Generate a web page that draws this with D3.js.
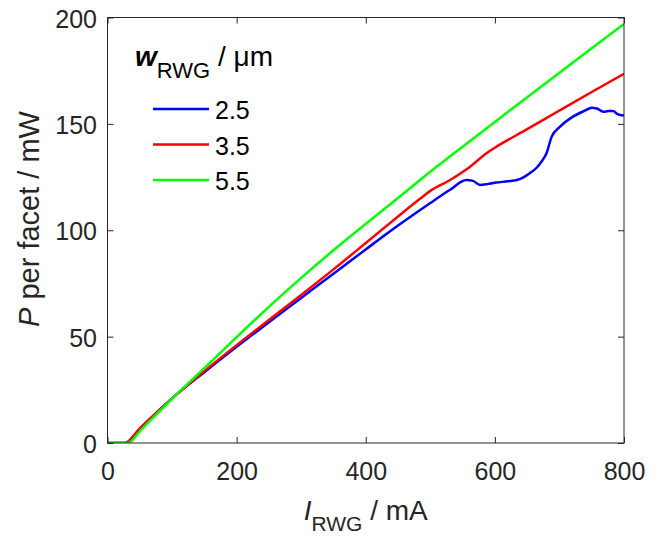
<!DOCTYPE html>
<html>
<head>
<meta charset="utf-8">
<script src="https://cdn.jsdelivr.net/npm/d3@7"></script>
<style>
  body { margin: 0; background: #fff; }
  svg { display: block; font-family: "Liberation Sans", Arial, sans-serif; }
</style>
</head>
<body>
<svg id="chart" width="666" height="539"></svg>
<script>
// ---- data ----
var seriesNames = ['2.5', '3.5', '5.5'];
var seriesColors = ['#0000ff', '#ff0000', '#00ff00'];

var blueI = [0, 27, 50, 100, 150, 200, 250, 300, 350, 400, 450, 500, 530, 556, 566, 577, 590, 602, 620, 634,
             645, 654, 665, 672, 680, 688, 701, 721, 740, 750, 758, 768, 776, 783, 790, 800];
var blueP = [0, 0, 6.8, 21.0, 33.3, 45.2, 56.8, 68.2, 79.6, 91.0, 102.2, 112.8, 118.9, 123.6, 123.2, 121.3, 121.8, 122.4, 123.0, 123.6,
             125.0, 126.8, 129.5, 132.2, 136.2, 144.0, 148.7, 153.4, 156.3, 157.6, 157.2, 155.7, 156.0, 156.0, 154.6, 153.9];

var redI = [0, 27, 50, 100, 150, 200, 250, 300, 350, 400, 450, 484, 500, 530, 560, 587, 600, 650, 700, 750, 800];
var redP = [0, 0, 6.8, 21.0, 33.8, 46.0, 57.8, 69.6, 81.6, 94.0, 106.5, 114.8, 118.5, 123.5, 129.5, 136.2, 138.8, 147.5, 156.3, 165.0, 173.5];

var greenI = [0, 32, 50, 100, 150, 200, 250, 300, 350, 400, 450, 500, 550, 600, 650, 700, 750, 800];
var greenP = [0, 0, 5.5, 20.8, 35.2, 49.8, 64.0, 77.6, 90.6, 103.0, 115.2, 127.5, 139.3, 150.9, 162.5, 174.0, 185.5, 197.0];

var xTicks = [0, 200, 400, 600, 800];
var yTicks = [0, 50, 100, 150, 200];

// ---- layout ----
var svg = d3.select('#chart');
var pLeft = 107.5, pRight = 624, pTop = 17.5, pBottom = 443;
var axisColor = '#262626';

var x = d3.scaleLinear().domain([0, 800]).range([pLeft, pRight]);
var y = d3.scaleLinear().domain([0, 200]).range([pBottom, pTop]);

var series = [
  { name: seriesNames[0], color: seriesColors[0], I: blueI, P: blueP },
  { name: seriesNames[1], color: seriesColors[1], I: redI, P: redP },
  { name: seriesNames[2], color: seriesColors[2], I: greenI, P: greenP }
];

// clip
svg.append('clipPath').attr('id', 'clip')
  .append('rect')
  .attr('x', pLeft).attr('y', pTop)
  .attr('width', pRight - pLeft).attr('height', pBottom - pTop);

var line = d3.line()
  .x(function (d) { return x(d[0]); })
  .y(function (d) { return y(d[1]); })
  .curve(d3.curveMonotoneX);

svg.append('g').attr('clip-path', 'url(#clip)')
  .selectAll('path')
  .data(series)
  .enter()
  .append('path')
  .attr('fill', 'none')
  .attr('stroke', function (d) { return d.color; })
  .attr('stroke-width', 2.5)
  .attr('stroke-linejoin', 'round')
  .attr('d', function (d) { return line(d3.zip(d.I, d.P)); });

// axes
function styleAxis(g) {
  g.select('.domain').remove();
  g.selectAll('line').attr('stroke', axisColor);
  g.selectAll('text').attr('fill', axisColor).style('font-size', '25px')
    .style('font-family', '"Liberation Sans", Arial, sans-serif');
}

svg.append('g')
  .attr('transform', 'translate(0,' + pBottom + ')')
  .call(d3.axisBottom(x).tickValues(xTicks).tickSizeInner(-6).tickSizeOuter(0).tickPadding(19))
  .call(styleAxis);

svg.append('g')
  .attr('transform', 'translate(0,' + pTop + ')')
  .call(d3.axisTop(x).tickValues(xTicks).tickSizeInner(-6).tickSizeOuter(0).tickFormat(''))
  .call(styleAxis);

svg.append('g')
  .attr('transform', 'translate(' + pLeft + ',0)')
  .call(d3.axisLeft(y).tickValues(yTicks).tickSizeInner(-6).tickSizeOuter(0).tickPadding(10.5))
  .call(styleAxis)
  .selectAll('text').attr('dy', '0.38em');

svg.append('g')
  .attr('transform', 'translate(' + pRight + ',0)')
  .call(d3.axisRight(y).tickValues(yTicks).tickSizeInner(-6).tickSizeOuter(0).tickFormat(''))
  .call(styleAxis);

// box
svg.append('rect')
  .attr('x', pLeft).attr('y', pTop)
  .attr('width', pRight - pLeft).attr('height', pBottom - pTop)
  .attr('fill', 'none').attr('stroke', axisColor).attr('stroke-width', 1);

// axis labels
var xl = svg.append('text')
  .attr('x', (pLeft + pRight) / 2).attr('y', 520)
  .attr('text-anchor', 'middle')
  .attr('fill', axisColor)
  .style('font-size', '28px');
xl.append('tspan').style('font-style', 'italic').text('I');
xl.append('tspan').style('font-size', '21px').attr('dy', 11).text('RWG');
xl.append('tspan').attr('dy', -11).text(' / mA');

var yl = svg.append('text')
  .attr('transform', 'translate(39,219) rotate(-90)')
  .attr('text-anchor', 'middle')
  .attr('fill', axisColor)
  .style('font-size', '29px');
yl.append('tspan').style('font-style', 'italic').text('P');
yl.append('tspan').text(' per facet / mW');

// legend
var lt = svg.append('text')
  .attr('x', 135).attr('y', 66)
  .attr('fill', '#000')
  .style('font-size', '28px');
lt.append('tspan').style('font-style', 'italic').style('font-weight', 'bold').text('w');
lt.append('tspan').style('font-size', '22px').attr('dy', 12).text('RWG');
lt.append('tspan').attr('dy', -12).text(' / \u03bcm');

var leg = svg.append('g').selectAll('g')
  .data(series)
  .enter()
  .append('g')
  .attr('transform', function (d, i) { return 'translate(0,' + (109 + i * 35.5) + ')'; });

leg.append('line')
  .attr('x1', 153).attr('x2', 209)
  .attr('y1', 0).attr('y2', 0)
  .attr('stroke', function (d) { return d.color; })
  .attr('stroke-width', 2.5);

leg.append('text')
  .attr('x', 215).attr('y', 10)
  .attr('fill', '#000')
  .style('font-size', '25px')
  .text(function (d) { return d.name; });
</script>
</body>
</html>
